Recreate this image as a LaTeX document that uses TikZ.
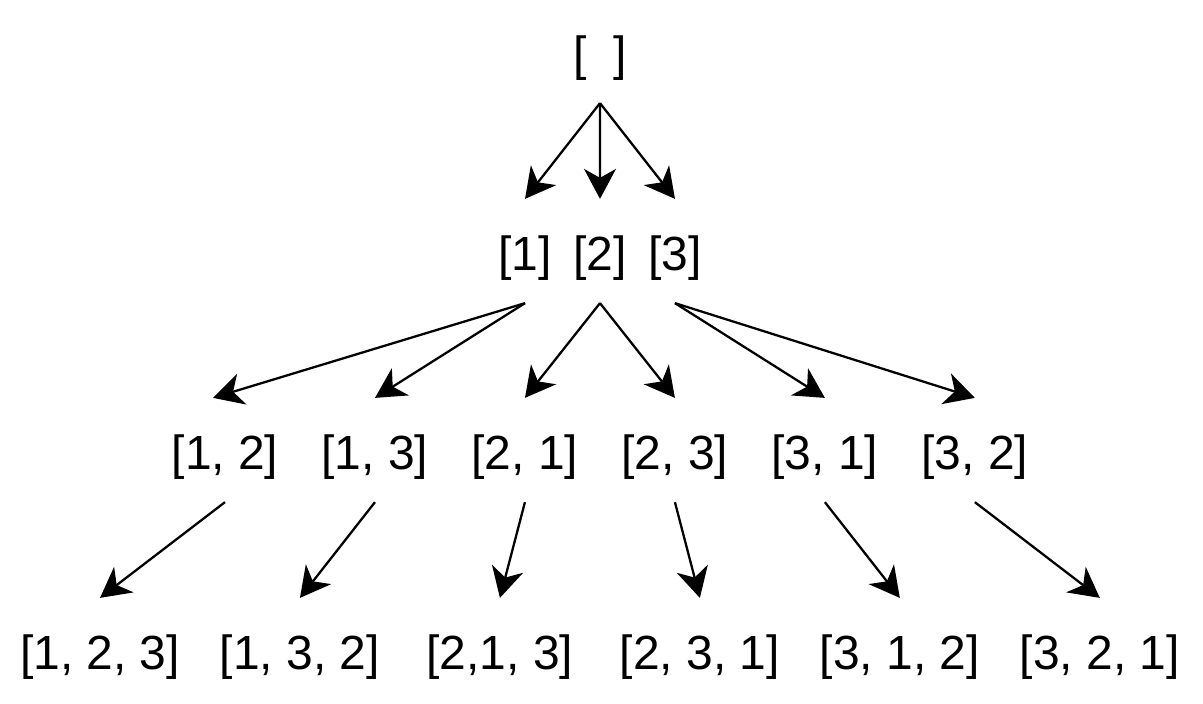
\documentclass[tikz,border=0pt]{standalone}
\usepackage{fontspec}
\setmainfont{Liberation Sans}
\usetikzlibrary{arrows.meta, positioning}

\begin{document}
\begin{tikzpicture}[x=0.02cm, y=-0.02cm, node distance=4cm, line width=1.3pt,
    link/.style={-{Stealth[length=6mm, width=6.4mm, inset=1.8mm]}},
    list/.style={anchor=base, inner sep=0pt, text height=1.4cm, text depth=0.64cm, font=\fontsize{27.3pt}{32pt}\selectfont}]
    \useasboundingbox (0,0) rectangle (1203,703);

    % Nodes
    \node [list] (r0) at (600,70) {[~~]};

    \node [list] (r1) at (525,270) {[1]};
    \node [list, right of=r1, node distance=1.5cm] (r2) {[2]};
    \node [list, right of=r2, node distance=1.5cm] (r3) {[3]};

    \node [list] (r12) at (225,469) {[1, 2]};
    \node [list, right of=r12, node distance=3cm] (r13) {[1, 3]};
    \node [list, right of=r13, node distance=3cm] (r21) {[2, 1]};
    \node [list, right of=r21, node distance=3cm] (r23) {[2, 3]};
    \node [list, right of=r23, node distance=3cm] (r31) {[3, 1]};
    \node [list, right of=r31, node distance=3cm] (r32) {[3, 2]};

    \node [list] (r123) at (100,669) {[1, 2, 3]};
    \node [list, right of=r123] (r132) {[1, 3, 2]};
    \node [list, right of=r132] (r213) {[2,1, 3]};
    \node [list, right of=r213] (r231) {[2, 3, 1]};
    \node [list, right of=r231] (r312) {[3, 1, 2]};
    \node [list, right of=r312] (r321) {[3, 2, 1]};

    % Arrows
    \draw [link] (r0.south) -- (r1.north);
    \draw [link] (r0.south) -- (r2.north);
    \draw [link] (r0.south) -- (r3.north);

    \draw [link] (r1.south) -- ([xshift=-0.24cm]r12.north);
    \draw [link] (r1.south) -- (r13.north);
    \draw [link] (r2.south) -- (r21.north);
    \draw [link] (r2.south) -- (r23.north);
    \draw [link] (r3.south) -- (r31.north);
    \draw [link] (r3.south) -- (r32.north);

    \draw [link] (r12.south) -- (r123.north);
    \draw [link] (r13.south) -- (r132.north);
    \draw [link] (r21.south) -- (r213.north);
    \draw [link] (r23.south) -- (r231.north);
    \draw [link] (r31.south) -- (r312.north);
    \draw [link] (r32.south) -- (r321.north);

\end{tikzpicture}
\end{document}
